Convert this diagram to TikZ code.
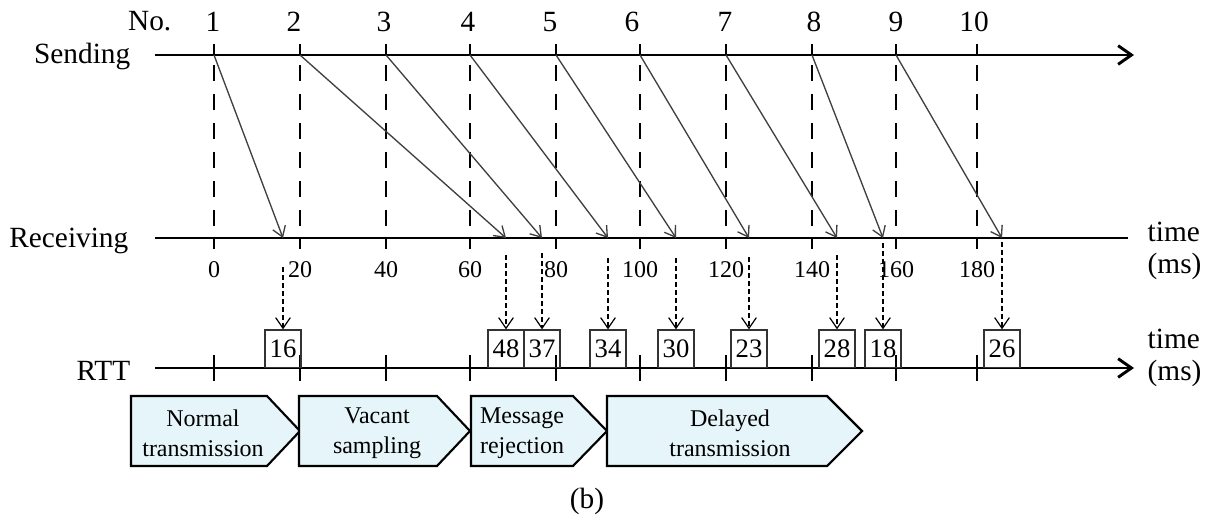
\documentclass[tikz,border=0pt]{standalone}
\usepackage{fontspec}
\setmainfont{Liberation Serif}
\usetikzlibrary{arrows.meta}

\definecolor{phasefill}{RGB}{229,245,250}

\tikzset{
  big/.style={font=\fontsize{22}{24}\selectfont},
  small/.style={font=\fontsize{18}{20}\selectfont},
  axis/.style={line width=2.2pt},
  axisarrow/.style={axis, -{Straight Barb[length=10pt,width=14pt]}},
  tick/.style={line width=2.2pt},
  slot/.style={line width=2.2pt, dash pattern=on 12pt off 9.75pt},
  msg/.style={line width=1pt, draw=black!75, -{Straight Barb[length=7.5pt,width=10pt]}},
  probe/.style={line width=0.9pt, dash pattern=on 3.75pt off 2.25pt, -{Straight Barb[length=8pt,width=11pt]}},
  rttbox/.style={font=\fontsize{20}{22}\selectfont, draw=black!80, line width=1pt, minimum width=27pt, minimum height=28pt, inner sep=0pt, anchor=south},
  phase/.style={draw, line width=1.6pt, fill=phasefill, line join=miter},
  phasetext/.style={font=\fontsize{18}{22.5}\selectfont, align=center},
}

\begin{document}
\begin{tikzpicture}[x=0.75pt,y=-0.75pt]
\useasboundingbox (0,0) rectangle (1213,517);

% row labels
\node[big, anchor=base east] (no) at (176,31) {No.};
\node[big, anchor=base east] (send) at (135,64) {Sending};
\node[big, anchor=base east] (recv) at (133,247) {Receiving};
\node[big, anchor=base east] (rtt) at (135,380) {RTT};
\node[big, anchor=west, align=left] (rtime) at (1143,251) {time\\(ms)};
\node[big, anchor=west, align=left] (ttime) at (1143,358) {time\\(ms)};

% axes
\coordinate (sa) at (155,55);
\coordinate (sb) at (1134,55);
\coordinate (ra) at (155,238);
\coordinate (rb) at (1128,238);
\coordinate (ta) at (155,368);
\coordinate (tb) at (1134,368);
\draw[axisarrow] (sa) -- (sb);
\draw[axis] (ra) -- (rb);
\draw[axisarrow] (ta) -- (tb);

% sampling instants
\foreach \i/\x/\nx/\v in {1/214/213/0, 2/300/294/20, 3/386/384/40, 4/470/468/60, 5/556/550/80,
    6/640/632/100, 7/726/725/120, 8/812/814/140, 9/896/896/160, 10/977/974/180} {
  \coordinate (s\i) at (\x,55);
  \coordinate (g\i) at (\x,238);
  \node[big, anchor=base] (n\i) at (\nx,32) {\i};
  \node[small, anchor=base] (v\i) at (\x,277) {\v};
  \draw[tick] (\x,44) -- (s\i);
  \draw[slot] (\x,65) -- (\x,226);
  \draw[tick] (g\i) -- (\x,249);
  \draw[tick] (\x,355) -- (\x,381);
}

% messages and round trip times
\foreach \i/\rx/\ys/\d in {1/283/267/16, 2/506/255/48, 3/542/253/37, 4/608/258/34, 5/676/258/30,
    6/749/257/23, 7/837/255/28, 8/883/243/18, 9/1002/242/26} {
  \coordinate (r\i) at (\rx,238);
  \coordinate (p\i) at (\rx,\ys);
  \node[rttbox] (b\i) at (\rx,368) {\d};
  \draw[msg] (s\i) -- (r\i);
  \draw[probe] (p\i) -- (b\i.north);
}

% phases
\foreach \k/\l/\c/\r/\tx/\txt in {1/131/267/300/203/{Normal\\transmission},
    2/299/437/470/377/{Vacant\\sampling}, 3/471/573/607/522/{Message\\rejection},
    4/607/827/862/730/{Delayed\\transmission}} {
  \draw[phase] (\l,396) -- (\c,396) -- (\r,431) -- (\c,466) -- (\l,466) -- cycle;
  \node[phasetext] (ph\k) at (\tx,433) {\txt};
}

\node[big, anchor=base] (cap) at (587,508) {(b)};
\end{tikzpicture}
\end{document}
